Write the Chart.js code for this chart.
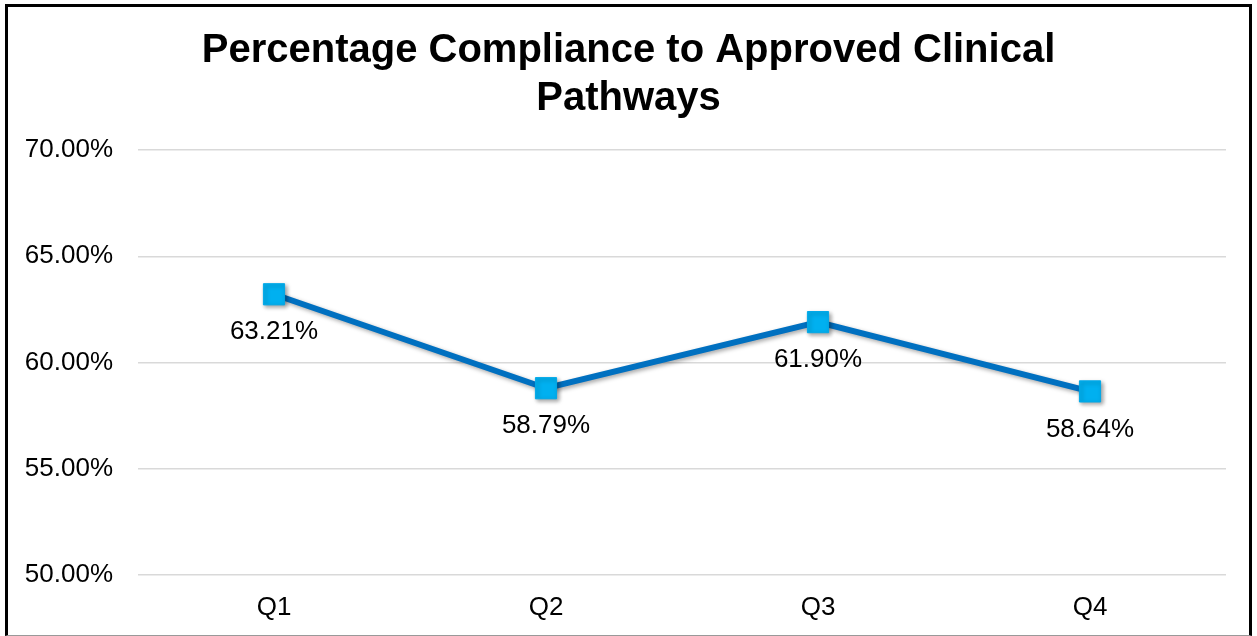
<!DOCTYPE html>
<html>
<head>
<meta charset="utf-8">
<script src="https://cdn.jsdelivr.net/npm/chart.js@4"></script>
<style>
  html, body { margin: 0; padding: 0; background: #fff; }
  #box {
    position: absolute; left: 5px; top: 4px;
    width: 1241px; height: 628px;
    border-left: 3px solid #000; border-top: 3px solid #000; border-right: 3px solid #000;
    border-bottom: 1px solid #999;
  }
</style>
</head>
<body>
<div id="box"><canvas id="myChart" width="1241" height="628"></canvas></div>
<script>
// data
const quarters = ['Q1', 'Q2', 'Q3', 'Q4'];
const compliance = [63.21, 58.79, 61.90, 58.64];
const yTicks = [50, 55, 60, 65, 70];

const FONT = '"Liberation Sans", Arial, sans-serif';

// labels under each point + little drop shadow like the office chart
const valueLabels = {
  id: 'valueLabels',
  beforeDatasetDraw(chart) {
    const ctx = chart.ctx;
    ctx.save();
    ctx.shadowColor = 'rgba(0,0,0,0.35)';
    ctx.shadowBlur = 4;
    ctx.shadowOffsetX = 2;
    ctx.shadowOffsetY = 2;
  },
  afterDatasetDraw(chart) {
    chart.ctx.restore();
  },
  afterDatasetsDraw(chart) {
    const ctx = chart.ctx;
    const meta = chart.getDatasetMeta(0);
    ctx.save();
    ctx.font = '26px ' + FONT;
    ctx.fillStyle = '#000';
    ctx.textAlign = 'center';
    ctx.textBaseline = 'middle';
    meta.data.forEach((pt, i) => {
      ctx.fillText(compliance[i].toFixed(2) + '%', pt.x, pt.y + 38);
    });
    ctx.restore();
  }
};

const ctx = document.getElementById('myChart').getContext('2d');
new Chart(ctx, {
  type: 'line',
  data: {
    labels: quarters,
    datasets: [{
      data: compliance,
      borderColor: '#0070C0',
      borderWidth: 6,
      pointStyle: 'rect',
      pointRadius: 15,
      pointHoverRadius: 15,
      pointBackgroundColor: '#00B0F0',
      pointBorderColor: '#00A8E8',
      pointBorderWidth: 1,
      tension: 0
    }]
  },
  options: {
    responsive: false,
    animation: false,
    layout: { padding: 0 },
    plugins: {
      legend: { display: false },
      title: {
        display: true,
        text: ['Percentage Compliance to Approved Clinical', 'Pathways'],
        color: '#000',
        font: { family: FONT, size: 40, weight: 'bold', lineHeight: 1.2 },
        padding: { top: 20, bottom: 27 }
      }
    },
    scales: {
      x: {
        offset: true,
        grid: { display: false },
        border: { display: false },
        ticks: { color: '#000', font: { family: FONT, size: 26 }, padding: 9 },
        afterFit: s => { s.height = 60; }
      },
      y: {
        min: 50,
        max: 70,
        afterBuildTicks: s => { s.ticks = yTicks.map(v => ({ value: v })); },
        grid: { color: '#d9d9d9', lineWidth: 1.5, drawTicks: false },
        border: { display: false },
        ticks: {
          color: '#000',
          font: { family: FONT, size: 26 },
          padding: 25,
          callback: v => v.toFixed(2) + '%'
        },
        afterFit: s => { s.width = 130; }
      },
      // empty strip on the right so the plot ends where the reference does
      yRight: {
        position: 'right',
        min: 50,
        max: 70,
        grid: { display: false },
        border: { display: false },
        ticks: { display: false },
        afterFit: s => { s.width = 23; }
      }
    }
  },
  plugins: [valueLabels]
});
</script>
</body>
</html>
